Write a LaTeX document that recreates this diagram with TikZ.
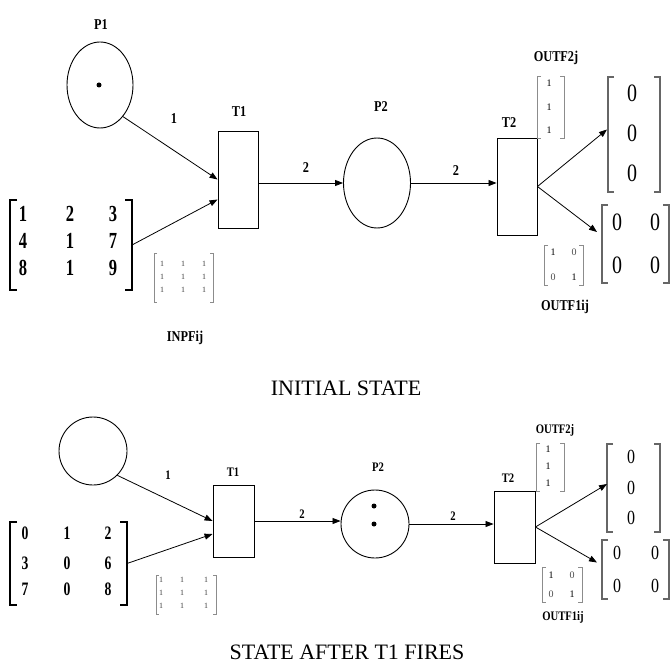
\documentclass[tikz,border=0pt]{standalone}
\usepackage{fontspec}
\setmainfont{Liberation Serif}
\newfontfamily\condfont[FakeStretch=0.82]{Liberation Serif}
\newfontfamily\digfont[FakeStretch=0.72]{Liberation Serif}
\newfontfamily\zfont[FakeStretch=0.8]{Liberation Serif}
\usetikzlibrary{shapes.geometric,arrows.meta,calc}
\newcommand\mybrk[3]{%
  \draw[#3] ([xshift=#2]#1.north west) -- (#1.north west) -- (#1.south west) -- ([xshift=#2]#1.south west);
  \draw[#3] ([xshift=-#2]#1.north east) -- (#1.north east) -- (#1.south east) -- ([xshift=-#2]#1.south east);}
\begin{document}
\begin{tikzpicture}[x=1pt,y=-1pt,
  lbl/.style={font=\condfont\bfseries\fontsize{15}{15}\selectfont, inner sep=0},
  lbls/.style={font=\condfont\bfseries\fontsize{13}{13}\selectfont, inner sep=0},
  num/.style={font=\digfont\bfseries\fontsize{23}{23}\selectfont, inner sep=0},
  nums/.style={font=\digfont\bfseries\fontsize{19}{19}\selectfont, inner sep=0},
  zero/.style={font=\zfont\fontsize{25}{25}\selectfont, inner sep=0},
  zeros/.style={font=\zfont\fontsize{20}{20}\selectfont, inner sep=0},
  tinyn/.style={font=\fontsize{8}{8}\selectfont, text=black!75, inner sep=0},
  smalln/.style={font=\fontsize{10}{10}\selectfont, inner sep=0},
  captxt/.style={font=\fontsize{22}{22}\selectfont, inner sep=0},
  place/.style={draw, ellipse, inner sep=0, line width=0.9},
  trans/.style={draw, rectangle, inner sep=0, line width=0.9},
  box/.style={inner sep=0, outer sep=0, rectangle},
  arc/.style={-{Triangle[length=8, width=6]}, line width=0.8},
  bk/.style={line width=1.5},
  gbk/.style={line width=1.1, draw=black!60},
  lgbk/.style={line width=0.8, draw=black!45},
]
\useasboundingbox (0,0) rectangle (671,671);

% ================= TOP: INITIAL STATE =================
\node[place, minimum width=66, minimum height=86] (p1) at (100,85) {};
\fill (99,85) circle (2.5);
\node[lbl] (lp1) at (101,25) {P1};

\node[trans, minimum width=40, minimum height=97] (t1) at (238,179.5) {};
\node[lbl] (lt1) at (239,112) {T1};

\node[place, minimum width=67, minimum height=90] (p2) at (377,183) {};
\node[lbl] (lp2) at (381,107) {P2};

\node[trans, minimum width=40, minimum height=97] (t2) at (517,186.5) {};
\node[lbl] (lt2) at (509,123) {T2};

% input matrix
\node[box, minimum width=122, minimum height=90] (m1) at (71,245) {};
\mybrk{m1}{7}{bk}
\node[num] at (23,214) {1}; \node[num] at (70,214) {2}; \node[num] at (113,214) {3};
\node[num] at (23,241) {4}; \node[num] at (70,241) {1}; \node[num] at (113,241) {7};
\node[num] at (23,268) {8}; \node[num] at (70,268) {1}; \node[num] at (113,268) {9};

% INPF gray matrix
\node[box, minimum width=59, minimum height=49] (g1) at (183.5,277.5) {};
\mybrk{g1}{3}{lgbk}
\foreach \yy in {264,277,290}{\foreach \xx in {162,183,204}{\node[tinyn] at (\xx,\yy) {1};}}
\node[lbl] (linpf) at (185,338) {INPFij};

% outputs
\node[box, minimum width=27, minimum height=62] (s1) at (550.5,107) {};
\mybrk{s1}{4}{lgbk}
\node[smalln] at (549,83) {1}; \node[smalln] at (549,107) {1}; \node[smalln] at (549,130) {1};
\node[lbl] (lo2) at (556,58) {OUTF2j};

\node[box, minimum width=52, minimum height=115] (c1) at (634,134.5) {};
\mybrk{c1}{6}{gbk}
\node[zero] at (632,93) {0}; \node[zero] at (632,133) {0}; \node[zero] at (632,173) {0};

\node[box, minimum width=67, minimum height=78] (z1) at (635.5,244) {};
\mybrk{z1}{6}{gbk}
\node[zero] at (617,222) {0}; \node[zero] at (655,222) {0};
\node[zero] at (617,265) {0}; \node[zero] at (655,265) {0};

\node[box, minimum width=39, minimum height=40] (s2) at (563.5,265) {};
\mybrk{s2}{4}{lgbk}
\node[smalln] at (553,252) {1}; \node[smalln, text=black!70] at (574,252) {0};
\node[smalln, text=black!70] at (553,277) {0}; \node[smalln] at (574,277) {1};
\node[lbl] (lo1) at (565,307) {OUTF1ij};

% arcs
\draw[arc] (p1.-54) -- (t1.west);
\node[lbl] at (174,119) {1};
\draw[arc] (m1.east) -- ($(t1.west)+(0,20)$);
\draw[arc] (t1.east |- p2.west) -- (p2.west);
\node[lbl] at (306,168) {2};
\draw[arc] (p2.east) -- (p2.east -| t2.west);
\node[lbl] at (456,171) {2};
\draw[arc] (t2.east) -- ($(c1.west)+(-1,-5)$);
\draw[arc] (t2.east) -- ($(z1.west)+(-5,-12)$);

\node[captxt] (c1cap) at (346,388) {INITIAL STATE};

% ================= BOTTOM: AFTER T1 FIRES =================
\node[place, circle, minimum size=68] (p1b) at (93,451) {};

\node[trans, minimum width=41, minimum height=72] (t1b) at (233.5,521) {};
\node[lbls] (lt1b) at (233,472) {T1};

\node[place, circle, minimum size=68] (p2b) at (375,524) {};
\fill (374,506) circle (2.5);
\fill (374,524) circle (2.5);
\node[lbls] (lp2b) at (378,467) {P2};

\node[trans, minimum width=41, minimum height=72] (t2b) at (514.5,527) {};
\node[lbls] (lt2b) at (508,478) {T2};

\node[box, minimum width=117, minimum height=83] (m2) at (68.5,563.5) {};
\mybrk{m2}{7}{bk}
\node[nums] at (25,533) {0}; \node[nums] at (67,533) {1}; \node[nums] at (108,533) {2};
\node[nums] at (25,563) {3}; \node[nums] at (67,563) {0}; \node[nums] at (108,563) {6};
\node[nums] at (25,589) {7}; \node[nums] at (67,589) {0}; \node[nums] at (108,589) {8};

\node[box, minimum width=60, minimum height=39] (g2) at (186,594.5) {};
\mybrk{g2}{3}{lgbk}
\foreach \yy in {580,593,606}{\foreach \xx in {161,182,206}{\node[tinyn] at (\xx,\yy) {1};}}

\node[box, minimum width=28, minimum height=48] (s1b) at (550,467) {};
\mybrk{s1b}{4}{lgbk}
\node[smalln] at (548,449) {1}; \node[smalln] at (548,466) {1}; \node[smalln] at (548,483) {1};
\node[lbls] (lo2b) at (555,430) {OUTF2j};

\node[box, minimum width=53, minimum height=88] (c1b) at (633.5,488) {};
\mybrk{c1b}{6}{gbk}
\node[zeros] at (631,457) {0}; \node[zeros] at (631,488) {0}; \node[zeros] at (631,518) {0};

\node[box, minimum width=67, minimum height=59] (z1b) at (635.5,569.5) {};
\mybrk{z1b}{6}{gbk}
\node[zeros] at (617,553) {0}; \node[zeros] at (655,553) {0};
\node[zeros] at (617,586) {0}; \node[zeros] at (655,586) {0};

\node[box, minimum width=40, minimum height=35] (s2b) at (562,584.5) {};
\mybrk{s2b}{4}{lgbk}
\node[smalln] at (551,575) {1}; \node[smalln, text=black!70] at (572,575) {0};
\node[smalln, text=black!70] at (551,594) {0}; \node[smalln] at (572,594) {1};
\node[lbls] (lo1b) at (563,617) {OUTF1ij};

\draw[arc] (p1b.-45) -- (t1b.west);
\node[lbls] at (168,475) {1};
\draw[arc] (m2.east) -- ($(t1b.west)+(0,13)$);
\draw[arc] (t1b.east) -- (t1b.east -| p2b.west);
\node[lbls] at (302,514) {2};
\draw[arc] (p2b.east) -- (p2b.east -| t2b.west);
\node[lbls] at (453,516) {2};
\draw[arc] (t2b.east) -- ($(c1b.west)+(0,-4)$);
\draw[arc] (t2b.east) -- ($(z1b.west)+(-5,-7)$);

\node[captxt] (c2cap) at (347,652) {STATE AFTER T1 FIRES};
\end{tikzpicture}
\end{document}
